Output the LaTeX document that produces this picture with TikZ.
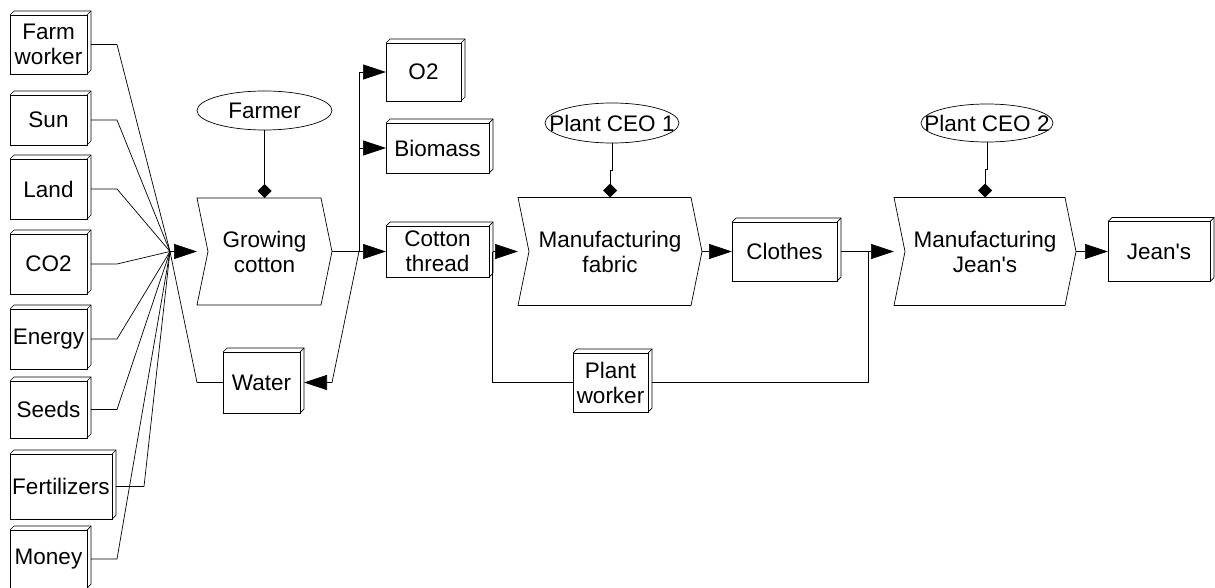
\documentclass[tikz,border=0pt]{standalone}
\usepackage{fontspec}
\setmainfont{Liberation Sans}
\usetikzlibrary{arrows.meta,shapes.geometric,calc}
\begin{document}
\begin{tikzpicture}[x=1pt,y=-1pt, line width=0.7pt,
  every node/.style={font=\fontsize{22.5}{25}\selectfont, align=center, inner sep=0pt, outer sep=0pt},
  box/.style={draw, fill=white, minimum width=77pt, minimum height=60pt},
  actor/.style={draw, ellipse, minimum width=134pt, minimum height=40pt},
  arr/.style={-{Triangle[length=23pt,width=15pt]}},
  dia/.style={-{Diamond[length=14pt,width=14pt]}}
]
\useasboundingbox (0,0) rectangle (1215,588);

% left column inputs
\node[box, minimum height=59pt] (fw) at (48.5,44.5) {Farm\\worker};
\node[box, minimum height=50pt] (sun) at (48.5,120) {Sun};
\node[box] (land) at (48.5,189) {Land};
\node[box] (co2) at (48.5,264) {CO2};
\node[box] (energy) at (48.5,339) {Energy};
\node[box, minimum height=57pt] (seeds) at (48.5,409.5) {Seeds};
\node[box, minimum width=102pt, minimum height=65pt] (fert) at (61,486.5) {Fertilizers};
\node[box, minimum height=58pt] (money) at (48.5,559) {Money};

% other boxes
\node[box, minimum width=77pt, minimum height=61pt] (water) at (261.5,382.5) {Water};
\node[box, minimum width=75pt, minimum height=58pt] (o2) at (423.5,72) {O2};
\node[box, minimum width=103pt, minimum height=50pt] (bio) at (437.5,148) {Biomass};
\node[box, minimum width=103pt, minimum height=51pt] (cot) at (437.5,251.5) {Cotton\\thread};
\node[box, minimum width=105pt, minimum height=59pt] (clo) at (784.5,251.5) {Clothes};
\node[box, minimum width=75pt, minimum height=59pt] (pw) at (610.5,382.5) {Plant\\worker};
\node[box, minimum width=102pt, minimum height=60pt] (jeans) at (1159,251.5) {Jean\textquotesingle s};

\foreach \n in {fw,sun,land,co2,energy,seeds,fert,money,water,o2,bio,cot,clo,pw,jeans} {
  \draw (\n.north west) -- ++(4pt,4pt) -- ([shift={(4pt,4pt)}]\n.north east) -- ([shift={(4pt,4pt)}]\n.south east) -- (\n.south east);
  \draw (\n.north east) -- ++(4pt,4pt);
}

% processes
\node[minimum width=135pt, minimum height=107pt] (grow) at (264.5,251.5) {Growing\\cotton};
\node[minimum width=184pt, minimum height=108pt] (fab) at (610,251.5) {Manufacturing\\fabric};
\node[minimum width=182pt, minimum height=108pt] (jmf) at (985,251.5) {Manufacturing\\Jean\textquotesingle s};
\foreach \n in {grow,fab,jmf}
  \draw (\n.north west) -- ([xshift=-11pt]\n.north east) -- (\n.east) -- ([xshift=-11pt]\n.south east) -- (\n.south west) -- ([xshift=11pt]\n.west) -- cycle;

% actors
\node[actor, minimum width=135pt, minimum height=39pt] (farmer) at (264.5,110.5) {\makebox[0pt]{Farmer}};
\node[actor] (ceo1) at (612,123) {\makebox[0pt]{Plant CEO 1}};
\node[actor, minimum width=132pt, minimum height=38pt] (ceo2) at (987,123) {\makebox[0pt]{Plant CEO 2}};

% junction of inputs
\coordinate (J) at (170,251.5);
\coordinate (E) at (117,0);
\coordinate (E2) at (144,0);
\foreach \n in {fw,sun,land,co2,energy,seeds,money}
  \draw ([xshift=4pt]\n.east) -- (\n.east -| E) -- (J);
\draw ([xshift=4pt]fert.east) -- (fert.east -| E2) -- (J);
\draw (water.west) -- (water.west -| grow.west) -- (J);
\draw[arr] (J) -- (grow.west);

% outputs of growing cotton
\coordinate (K) at (359,251.5);
\coordinate (W1) at (332,382.5);
\draw (grow.east) -- (K);
\draw[arr] (K) |- (o2.west);
\draw[arr] (K) |- (bio.west);
\draw[arr] (K) -- (cot.west);
\draw[arr] (K) -- (W1) -- ([xshift=4pt]water.east);

% manufacturing chain
\coordinate (L) at (492,251.5);
\coordinate (M) at (868,251.5);
\draw[arr] ([xshift=4pt]cot.east) -- (fab.west);
\draw (pw.west) -| (L);
\draw ([xshift=4pt]pw.east) -| (M);
\draw ([xshift=4pt]clo.east) -- (M);
\draw[arr] (M) -- (jmf.west);
\draw[arr] (fab.east) -- (clo.west);
\draw[arr] (jmf.east) -- (jeans.west);

% responsibilities
\draw[dia] (farmer.south) -- (grow.north);
\draw[dia] (ceo1.south) -- ++(0,27) -| (fab.north);
\draw[dia] (ceo2.south) -- ++(0,27) -| (jmf.north);
\end{tikzpicture}
\end{document}
